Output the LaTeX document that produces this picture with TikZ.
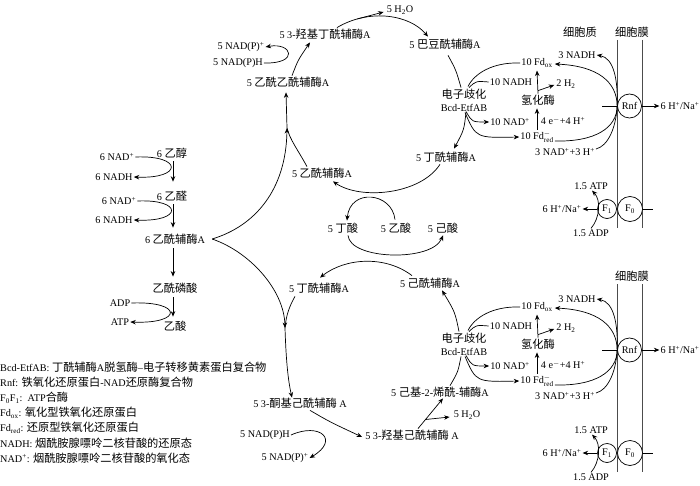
\documentclass[tikz,border=0pt]{standalone}
\usepackage{fontspec}
\setmainfont{Liberation Serif}
\newfontfamily\cjk{Noto Sans CJK SC}[Scale=1.1]
\usetikzlibrary{arrows.meta,calc}
\newcommand\zh[1]{{\cjk #1}}
\begin{document}
\begin{tikzpicture}[x=1pt,y=-1pt,font=\fontsize{10.2}{13}\selectfont,
  every node/.style={inner sep=1pt},
  ln/.style={line width=0.7pt},
  arr/.style={ln,-{Stealth[length=5.5pt,width=4.5pt]}},
  mem/.style={line width=0.8pt,black!70},
  circ/.style={draw,circle,line width=0.7pt,inner sep=0pt,fill=white},
  leg/.style={anchor=west,inner sep=0pt}]
\useasboundingbox (0,0) rectangle (700,486);

% ---------- left pathway ----------
\node (eth) at (172,153) {6 \zh{乙醇}};
\node (ald) at (172,196) {6 \zh{乙醛}};
\node (acoa) at (175,239) {6 \zh{乙酰辅酶}A};
\node (aph) at (175,288) {\zh{乙酰磷酸}};
\node (ac) at (175,326) {\zh{乙酸}};
\node (nadA) at (117,157) {6 NAD\textsuperscript{+}};
\node (nadhA) at (114,177) {6 NADH};
\node (nadB) at (119,201) {6 NAD\textsuperscript{+}};
\node (nadhB) at (114,220) {6 NADH};
\node (adp1) at (120,303) {ADP};
\node (atp1) at (120,322) {ATP};

\draw[arr] ($(eth.south)+(1,2)$) -- ($(ald.north)+(1,-8)$);
\draw[arr] ($(ald.south)+(1,2)$) -- ($(acoa.north)+(-2,-5)$);
\draw[arr] ($(acoa.south)+(-2,3)$) -- ($(aph.north)+(-2,-5)$);
\draw[arr] ($(aph.south)+(-2,3)$) -- ($(ac.north)+(-2,-3)$);
\draw[arr] (nadA.east) .. controls (183,155) and (183,179) .. (nadhA.east);
\draw[arr] (nadB.east) .. controls (183,199) and (183,222) .. (nadhB.east);
\draw[arr] (adp1.east) .. controls (183,301) and (183,324) .. (atp1.east);

% ---------- upper cycle ----------
\node (aacoa) at (288,82) {5 \zh{乙酰乙酰辅酶}A};
\node (hbut) at (325,34) {5 3-\zh{羟基丁酰辅酶}A};
\node (h2oA) at (400,10) {5 H\textsubscript{2}O};
\node (crot) at (445,44) {5 \zh{巴豆酰辅酶}A};
\node[align=center] (bcdA) at (464,100) {\zh{电子歧化}\\Bcd-EtfAB};
\node (butA) at (446,157) {5 \zh{丁酰辅酶}A};
\node (acoa5) at (322,173) {5 \zh{乙酰辅酶}A};
\node (nadpA) at (241,47) {5 NAD(P)\textsuperscript{+}};
\node (nadphA) at (238,63) {5 NAD(P)H};
\node (butyr) at (343,228) {5 \zh{丁酸}};
\node (acet) at (396,228) {5 \zh{乙酸}};
\node (hexa) at (443,228) {5 \zh{己酸}};

\coordinate (j1) at (287,128);
\draw[arr] ($(acoa.east)+(6,0)$) .. controls (255,226) and (286,190) .. (j1);
\draw[ln] ($(acoa5.north)+(-15,0)$) .. controls (298,150) and (290,140) .. (j1);
\draw[arr] (j1) -- ($(aacoa.south)+(-2,4)$);
\draw[arr] ($(aacoa.north)+(4,0)$) .. controls (298,60) .. ($(hbut.south)+(-15,2)$);
\draw[arr] (nadphA.east) .. controls (300,64) and (292,42) .. (nadpA.east);
\draw[arr] ($(hbut.north)+(12,0)$) .. controls (370,8) and (410,15) .. ($(crot.north)+(-17,-1)$) coordinate[pos=0.2] (bA);
\draw[arr] (bA) -- ($(h2oA.west)+(-2,2)$);
\draw[ln] ($(crot.south)+(3,5)$) .. controls (456,70) .. ($(bcdA.north)+(-3,0)$);
\draw[arr] ($(bcdA.south)+(2,0)$) .. controls (464,130) .. ($(butA.north)+(8,-2)$);
\draw[arr] ($(butA.south)+(-6,1)$) .. controls (420,195) and (360,200) .. ($(acoa5.south)+(11,2)$);
\draw[arr] ($(acet.north)+(-1,-2)$) .. controls (392,192) and (350,188) .. ($(butyr.north)+(4,-1)$);

% ---------- lower cycle ----------
\node (butB) at (319,288) {5 \zh{丁酰辅酶}A};
\node (hex) at (430,283) {5 \zh{己酰辅酶}A};
\node[align=center] (bcdB) at (464,344) {\zh{电子歧化}\\Bcd-EtfAB};
\node (enoyl) at (440,392) {5 \zh{己基}-2-\zh{烯酰}-\zh{辅酶}A};
\node (hhex) at (412,435) {5 3-\zh{羟基己酰辅酶} A};
\node (h2oB) at (467,415) {5 H\textsubscript{2}O};
\node (khex) at (300,403) {5 3-\zh{酮基己酰辅酶} A};
\node (nadphB) at (265,435) {5 NAD(P)H};
\node (nadpB) at (285,458) {5 NAD(P)\textsuperscript{+}};

\coordinate (j2) at (285,328);
\draw[arr] ($(acoa.east)+(6,0)$) .. controls (250,252) and (284,290) .. (j2);
\draw[ln] ($(butB.south)+(-24,2)$) .. controls (290,305) and (286,315) .. (j2);
\draw[arr] (j2) .. controls (286,360) and (288,380) .. ($(khex.north)+(-8,1)$);
\draw[arr] ($(hex.north)+(-18,-1)$) .. controls (385,255) and (345,258) .. ($(butB.north)+(1,-4)$);
\draw[arr] ($(butyr.south)+(5,1)$) .. controls (350,260) and (432,262) .. ($(hexa.south)+(0,1)$);
\draw[arr] ($(bcdB.north)+(-5,0)$) .. controls (455,312) .. ($(hex.south)+(12,1)$);
\draw[ln] ($(enoyl.north)+(10,0)$) .. controls (458,372) .. ($(bcdB.south)+(-3,0)$);
\draw[arr] ($(khex.south)+(10,1)$) .. controls (330,422) .. ($(hhex.west)+(-2,2)$);
\draw[arr] (nadphB.east) .. controls (320,422) and (340,440) .. (nadpB.east);
\draw[arr] ($(hhex.north)+(6,0)$) -- ($(enoyl.south)+(3,0)$) coordinate[pos=0.3] (bB);
\draw[arr] (bB) -- ($(h2oB.west)+(-3,2)$);

% ---------- right side (two copies) ----------
\node (cyto) at (580,32) {\zh{细胞质}};
\foreach \s/\dy in {A/0,B/244}{
  \node (mem\s) at (632,{32+\dy}) {\zh{细胞膜}};
  \draw[mem] (617,{40+\dy}) -- (617,{228+\dy});
  \draw[mem] (642,{40+\dy}) -- (642,{228+\dy});
  \node (rfdox\s) at (537,{63+\dy}) {10 Fd\textsubscript{ox}};
  \node (rnadh\s) at (511,{82+\dy}) {10 NADH};
  \node (rnad\s) at (510,{122+\dy}) {10 NAD\textsuperscript{+}};
  \node (rfdred\s) at (537,{137+\dy}) {10 Fd$^{-}_{\mathrm{red}}$};
  \node (rhyd\s) at (538,{100+\dy}) {\zh{氢化酶}};
  \node (re\s) at (563,{121+\dy}) {4 e$^{-}$+4 H\textsuperscript{+}};
  \node (rh2\s) at (566,{84+\dy}) {2 H\textsubscript{2}};
  \node[circ,minimum size=24pt] (rrnf\s) at (629.5,{106+\dy}) {Rnf};
  \node (rhna\s) at (680,{106+\dy}) {6 H\textsuperscript{+}/Na\textsuperscript{+}};
  \node (rnadh3\s) at (577,{55+\dy}) {3 NADH};
  \node (rnadp\s) at (565,{152+\dy}) {3 NAD\textsuperscript{+}+3 H\textsuperscript{+}};
  \node[circ,minimum size=19pt] (rf1\s) at (607,{209+\dy}) {F\textsubscript{1}};
  \node[circ,minimum size=25pt] (rf0\s) at (630,{209+\dy}) {F\textsubscript{0}};
  \node (rhnb\s) at (562,{209+\dy}) {6 H\textsuperscript{+}/Na\textsuperscript{+}};
  \node (ratp\s) at (591,{186+\dy}) {1.5 ATP};
  \node (radp\s) at (591,{233+\dy}) {1.5 ADP};

  \draw[ln] (rfdox\s.west) .. controls (492,{62+\dy}) and (474,{74+\dy}) .. ($(bcd\s.north)+(4,-1)$);
  \draw[ln] (rnadh\s.west) .. controls (476,{81+\dy}) .. ($(bcd\s.north)+(5,0)$);
  \draw[arr] ($(bcd\s.south)+(2,-1)$) .. controls (472,{122+\dy}) .. (rnad\s.west);
  \draw[arr] ($(bcd\s.south)+(1,0)$) .. controls (476,{138+\dy}) .. (rfdred\s.west);
  \draw[arr,shorten >=2pt] (rfdred\s.north) -- ($(rhyd\s.south)+(-1,0)$);
  \draw[arr] (rhyd\s.north) -- ($(rfdox\s.south)+(0,2)$);
  \draw[arr] ($(rhyd\s.north)+(0,-3)$) -- ($(rh2\s.west)+(-1,1)$);
  \draw[arr] ($(rfdred\s.east)+(0,4)$) .. controls (595,{142+\dy}) and (617,{128+\dy}) .. (rrnf\s.west)
      .. controls (617,{82+\dy}) and (598,{66+\dy}) .. ($(rfdox\s.east)+(1,1)$);
  \draw[arr] ($(rnadp\s.east)+(0,-3)$) .. controls (608,{146+\dy}) and (616,{128+\dy}) .. (rrnf\s.west)
      .. controls (618,{80+\dy}) and (614,{58+\dy}) .. (rnadh3\s.east);
  \draw[ln] ($(rrnf\s.west)+(-15,0)$) -- (rrnf\s.west);
  \draw[arr] (rrnf\s.east) -- (rhna\s.west);
  \draw[ln] (rf0\s.east) -- ++(10,0);
  \draw[arr] (rf1\s.west) -- (rhnb\s.east);
  \draw[arr] (radp\s.north) .. controls (600,{218+\dy}) and (601,{200+\dy}) .. ($(ratp\s.south)+(1,0)$);
}

% ---------- legend ----------
\node[leg] (lg1) at (0,367) {Bcd-EtfAB: \zh{丁酰辅酶}A\zh{脱氢酶}–\zh{电子转移黄素蛋白复合物}};
\node[leg] (lg2) at (0,382) {Rnf: \zh{铁氧化还原蛋白}-NAD\zh{还原酶复合物}};
\node[leg] (lg3) at (0,398) {F\textsubscript{0}F\textsubscript{1}:\ \ ATP\zh{合酶}};
\node[leg] (lg4) at (0,413) {Fd\textsubscript{ox}: \zh{氧化型铁氧化还原蛋白}};
\node[leg] (lg5) at (0,428) {Fd\textsubscript{red}: \zh{还原型铁氧化还原蛋白}};
\node[leg] (lg6) at (0,443) {NADH: \zh{烟酰胺腺嘌呤二核苷酸的还原态}};
\node[leg] (lg7) at (0,458) {NAD\textsuperscript{+}: \zh{烟酰胺腺嘌呤二核苷酸的氧化态}};
\end{tikzpicture}
\end{document}
